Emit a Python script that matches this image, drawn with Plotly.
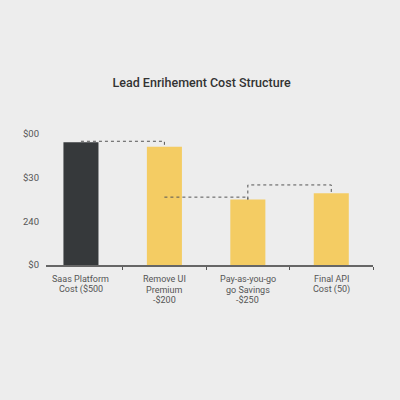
# Kostenstruktur als Balkendiagramm mit gestrichelten Verbindern
import plotly.graph_objects as go

categories = ["Saas Platform Cost ($500", "Remove UI Premium -$200",
              "Pay-as-you-go go Savings -$250", "Final API Cost (50)"]
label_lines = [["Saas Platform", "Cost ($500"], ["Remove UI", "Premium", "-$200"],
               ["Pay-as-you-go", "go Savings", "-$250"], ["Final API", "Cost (50)"]]
values = [675, 650, 360, 395]
bar_colors = ["#36393b", "#f4cc63", "#f4cc63", "#f4cc63"]

y_ticks = [0, 240, 480, 720]
y_labels = ["$0", "240", "$30", "$00"]

# Verbinder zwischen den Balken
conn_1_x = [categories[0], categories[1], categories[1]]
conn_1_y = [680, 680, 650]
conn_2_x = [categories[1], categories[2], categories[2]]
conn_2_y = [373, 373, 360]
conn_3_x = [categories[2], categories[2], categories[3], categories[3]]
conn_3_y = [360, 440, 440, 395]

fig = go.Figure()

fig.add_trace(go.Bar(
    x=categories,
    y=values,
    width=0.42,
    marker=dict(color=bar_colors, line=dict(width=0)),
    showlegend=False
))

for conn_x, conn_y in [(conn_1_x, conn_1_y), (conn_2_x, conn_2_y), (conn_3_x, conn_3_y)]:
    fig.add_trace(go.Scatter(
        x=conn_x,
        y=conn_y,
        mode="lines",
        line=dict(color="#555555", width=1, dash="3px,3px"),
        showlegend=False
    ))

# Beschriftung zeilenweise, der Zeilenabstand der Achse waere zu gross
for cat, lines in zip(categories, label_lines):
    for i, line in enumerate(lines):
        fig.add_annotation(
            x=cat,
            y=0,
            yref="y",
            yanchor="middle",
            yshift=-14 - i * 10.7,
            text=line,
            showarrow=False,
            font=dict(family="Roboto", size=9, color="#555555")
        )

fig.update_xaxes(
    type="category",
    range=[-0.419, 3.5],
    tickson="boundaries",
    ticks="outside",
    ticklen=3,
    tickwidth=1,
    tickcolor="#555555",
    showline=True,
    linecolor="#666666",
    linewidth=1.5,
    showgrid=False,
    showticklabels=False
)

fig.update_yaxes(
    range=[0, 720],
    tickvals=y_ticks,
    ticktext=y_labels,
    showgrid=False,
    zeroline=False,
    showline=False,
    ticks="",
    ticklabelstandoff=6,
    tickfont=dict(family="Roboto", size=9.5, color="#555555")
)

fig.update_layout(
    width=400,
    height=400,
    margin=dict(l=46, r=27, t=134, b=135),
    paper_bgcolor="#ededed",
    plot_bgcolor="#ededed",
    title=dict(
        text="Lead Enrihement Cost Structure",
        x=0.504,
        xanchor="center",
        y=0.794,
        yanchor="middle",
        font=dict(family="Roboto", size=12.5, color="#333333", weight=500)
    )
)

# Seitenrand des Browsers entfernen
fig.write_html(
    "out.html",
    config={"displayModeBar": False},
    post_script="document.body.style.margin='0';document.body.style.background='#ededed';"
)
